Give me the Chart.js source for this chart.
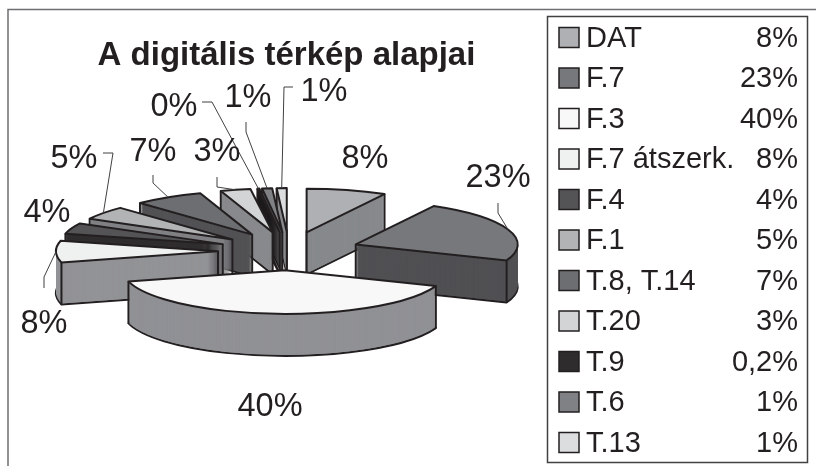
<!DOCTYPE html>
<html>
<head>
<meta charset="utf-8">
<style>
  html, body { margin: 0; padding: 0; background: #fff; }
  #wrap { width: 816px; height: 466px; }
</style>
<script src="https://cdn.jsdelivr.net/npm/chart.js@4/dist/chart.umd.min.js"></script>
</head>
<body>
<div id="wrap"><canvas id="pie" width="816" height="466"></canvas></div>
<script>
const titleText = 'A digitális térkép alapjai';
const categories = ['DAT', 'F.7', 'F.3', 'F.7 átszerk.', 'F.4', 'F.1', 'T.8, T.14', 'T.20', 'T.9', 'T.6', 'T.13'];
const values = [8, 23, 40, 8, 4, 5, 7, 3, 0.2, 1, 1];
const pieLabels = ['8%', '23%', '40%', '8%', '4%', '5%', '7%', '3%', '0%', '1%', '1%'];
const legendValues = ['8%', '23%', '40%', '8%', '4%', '5%', '7%', '3%', '0,2%', '1%', '1%'];
const topColors = ['#aeb0b3', '#77787b', '#f8f8f8', '#eff1f0', '#545456', '#b1b3b4', '#6d6e71', '#d3d4d6', '#2e2c2d', '#808184', '#dcddde'];
const wallColors = ['#87898c', '#505053', '#909195', '#929396', '#2f2d2e', '#808184', '#525255', '#88898c', '#1c1a1b', '#58585a', '#8a8b8e'];

const ink = '#231f20';
const font = '"Liberation Sans", Arial, sans-serif';
const pie = { x: 289, y: 251, squash: 0.27, depth: 42, radius: 162, explode: 71 };

// text spots and leader elbows, the last leader point comes from the slice itself
const labelSpots = [
    { x: 365, y: 159 },
    { x: 498, y: 178, line: [[498, 203], [498, 213]] },
    { x: 270, y: 407 },
    { x: 44, y: 324, line: [[44, 288], [44, 277]] },
    { x: 47, y: 213 },
    { x: 74, y: 159, line: [[103, 153], [113, 153]] },
    { x: 153, y: 152, line: [[153, 175], [153, 183]] },
    { x: 217, y: 152, line: [[217, 177], [217, 187]] },
    { x: 174, y: 107, line: [[202, 102], [212, 102]] },
    { x: 248, y: 98, line: [[246, 122], [246, 132]] },
    { x: 324, y: 92, line: [[293, 87], [284, 87]] }
];

function point(arc, angle, rad, depth) {
    const mid = (arc.startAngle + arc.endAngle) / 2;
    return {
        x: pie.x + pie.explode * Math.cos(mid) + rad * Math.cos(angle),
        y: pie.y + pie.squash * (pie.explode * Math.sin(mid) + rad * Math.sin(angle)) + depth
    };
}

function fillArc(ctx, arc, color, depth) {
    const saved = arc.options;
    const mid = (arc.startAngle + arc.endAngle) / 2;
    arc.options = Object.create(saved);
    arc.options.backgroundColor = color;
    arc.options.borderWidth = 0;
    ctx.save();
    ctx.translate(pie.x, pie.y + depth);
    ctx.scale(1, pie.squash);
    ctx.translate(pie.explode * Math.cos(mid), pie.explode * Math.sin(mid));
    ctx.translate(-arc.x, -arc.y);
    arc.draw(ctx);
    ctx.restore();
    arc.options = saved;
}

function strokeArc(ctx, arc, depth) {
    const apex = point(arc, arc.startAngle, 0, depth);
    ctx.beginPath();
    ctx.moveTo(apex.x, apex.y);
    ctx.ellipse(apex.x, apex.y, arc.outerRadius, arc.outerRadius * pie.squash, 0, arc.startAngle, arc.endAngle);
    ctx.closePath();
    ctx.stroke();
}

function lowerHalf(angle) {
    return Math.sin(angle) > 0;
}

function drawSlice(ctx, arc, i) {
    const r = arc.outerRadius;
    ctx.strokeStyle = ink;
    ctx.lineWidth = 2;
    ctx.lineJoin = 'round';

    fillArc(ctx, arc, wallColors[i], pie.depth);
    strokeArc(ctx, arc, pie.depth);
    for (let d = pie.depth - 1; d > 0; d--) {
        fillArc(ctx, arc, wallColors[i], d);
    }

    // visible upright edges
    const a = point(arc, arc.startAngle, r, 0);
    const b = point(arc, arc.endAngle, r, 0);
    const ups = [];
    if (lowerHalf(arc.startAngle) || a.y >= b.y) ups.push(a);
    if (lowerHalf(arc.endAngle) || b.y > a.y) ups.push(b);
    const wrapsFront = arc.startAngle < Math.PI / 2 && arc.endAngle > Math.PI / 2;
    if (!wrapsFront) ups.push(point(arc, arc.startAngle, 0, 0));
    ups.forEach(p => {
        ctx.beginPath();
        ctx.moveTo(p.x, p.y);
        ctx.lineTo(p.x, p.y + pie.depth);
        ctx.stroke();
    });

    fillArc(ctx, arc, topColors[i], 0);
    strokeArc(ctx, arc, 0);
}

const piePlugin = {
    id: 'pie3d',
    beforeDraw(chart) {
        const ctx = chart.ctx;
        ctx.save();
        ctx.strokeStyle = '#6d6e71';
        ctx.lineWidth = 1.5;
        ctx.beginPath();
        ctx.moveTo(8, 466);
        ctx.lineTo(8, 9.5);
        ctx.lineTo(816, 9.5);
        ctx.stroke();
        ctx.restore();
    },
    beforeDatasetsDraw(chart) {
        const ctx = chart.ctx;
        const arcs = chart.getDatasetMeta(0).data;
        const order = arcs.map((arc, i) => i).sort((p, q) => {
            return point(arcs[p], arcs[p].startAngle, 0, 0).y - point(arcs[q], arcs[q].startAngle, 0, 0).y;
        });
        ctx.save();
        order.forEach(i => drawSlice(ctx, arcs[i], i));
        ctx.restore();
        return false;
    },
    afterDraw(chart) {
        const ctx = chart.ctx;
        const arcs = chart.getDatasetMeta(0).data;
        ctx.save();

        // leaders and slice percentages
        ctx.strokeStyle = '#414042';
        ctx.lineWidth = 1;
        labelSpots.forEach((spot, i) => {
            if (!spot.line) return;
            const arc = arcs[i];
            const mid = (arc.startAngle + arc.endAngle) / 2;
            const end = point(arc, mid, arc.outerRadius, 0);
            ctx.beginPath();
            ctx.moveTo(spot.line[0][0], spot.line[0][1]);
            ctx.lineTo(spot.line[1][0], spot.line[1][1]);
            ctx.lineTo(end.x, end.y);
            ctx.stroke();
        });
        ctx.fillStyle = ink;
        ctx.font = '32.5px ' + font;
        ctx.textAlign = 'center';
        ctx.textBaseline = 'middle';
        pieLabels.forEach((text, i) => {
            ctx.fillText(text, labelSpots[i].x, labelSpots[i].y);
        });

        // legend box
        ctx.strokeStyle = '#414042';
        ctx.lineWidth = 1.5;
        ctx.strokeRect(547.5, 16.5, 260, 446);
        ctx.font = '29px ' + font;
        categories.forEach((name, i) => {
            const y = 37.5 + i * 40.5;
            ctx.fillStyle = topColors[i];
            ctx.fillRect(559, y - 10, 20, 20);
            ctx.strokeStyle = ink;
            ctx.strokeRect(559, y - 10, 20, 20);
            ctx.fillStyle = ink;
            ctx.textAlign = 'left';
            ctx.fillText(name, 586, y + 1);
            ctx.textAlign = 'right';
            ctx.fillText(legendValues[i], 798, y + 1);
        });
        ctx.restore();
    }
};

new Chart(document.getElementById('pie'), {
    type: 'pie',
    data: {
        labels: categories,
        datasets: [{
            data: values,
            backgroundColor: topColors,
            borderWidth: 0
        }]
    },
    options: {
        responsive: false,
        animation: false,
        events: [],
        radius: pie.radius,
        layout: { padding: { right: 243 } },
        plugins: {
            legend: { display: false },
            tooltip: { enabled: false },
            title: {
                display: true,
                text: titleText,
                fullSize: false,
                color: ink,
                font: { family: font, size: 33, weight: 'bold' },
                padding: { top: 36, bottom: 0 }
            }
        }
    },
    plugins: [piePlugin]
});
</script>
</body>
</html>
